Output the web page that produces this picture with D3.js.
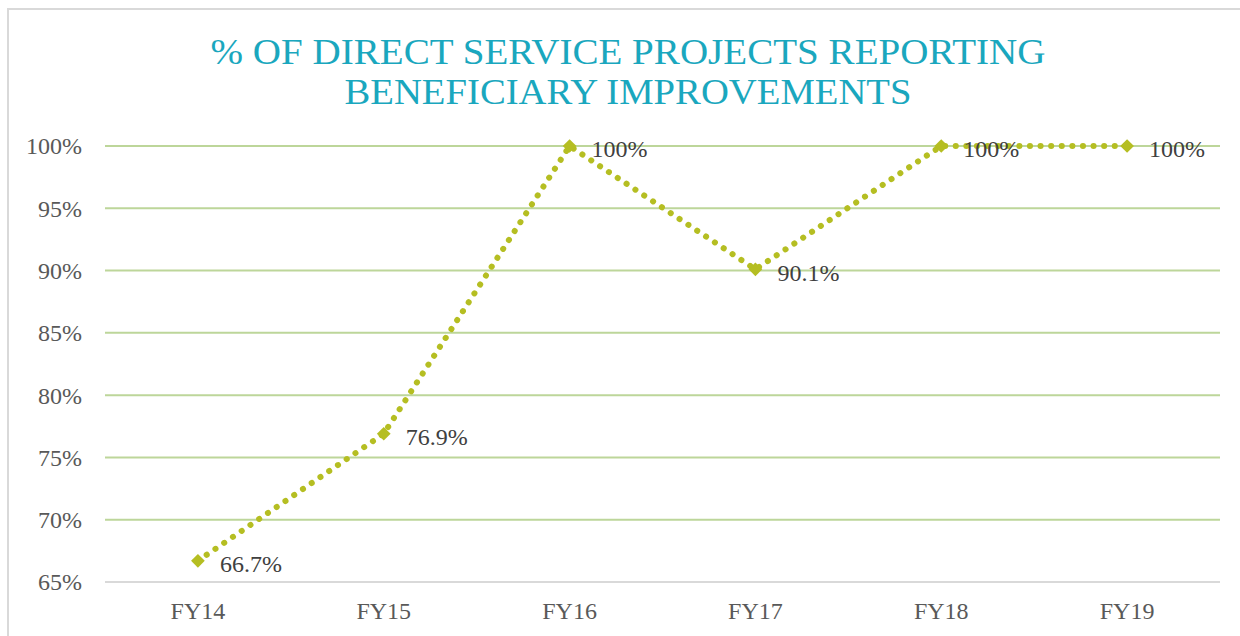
<!DOCTYPE html>
<html>
<head>
<meta charset="utf-8">
<script src="https://cdn.jsdelivr.net/npm/d3@7"></script>
<style>
  body { margin: 0; background: #fff; }
  svg { display: block; }
</style>
</head>
<body>
<svg id="chart" width="1240" height="636"></svg>
<script>
// data
var years = ["FY14", "FY15", "FY16", "FY17", "FY18", "FY19"];
var pct = [66.7, 76.9, 100, 90.1, 100, 100];
var pctLabels = ["66.7%", "76.9%", "100%", "90.1%", "100%", "100%"];
var yTicks = [65, 70, 75, 80, 85, 90, 95, 100];
var titleLines = ["% OF DIRECT SERVICE PROJECTS REPORTING", "BENEFICIARY IMPROVEMENTS"];

var svg = d3.select("#chart");
var serif = "'Liberation Serif', 'Times New Roman', serif";
var lineColour = "#B5BE22";

// chart border (only top/left visible in the picture)
svg.append("path")
    .attr("d", "M8,640 L8,9 L1250,9")
    .attr("fill", "none")
    .attr("stroke", "#D9D9D9")
    .attr("stroke-width", 2);

// title
var titleWidths = [835, 567];
svg.selectAll(".title")
    .data(titleLines)
    .join("text")
    .attr("class", "title")
    .attr("x", 628)
    .attr("y", (d, i) => 64 + i * 40)
    .attr("text-anchor", "middle")
    .attr("textLength", (d, i) => titleWidths[i])
    .attr("lengthAdjust", "spacingAndGlyphs")
    .style("font-family", serif)
    .style("font-size", "36px")
    .style("fill", "#1AA7BE")
    .text(d => d);

var x = d3.scaleBand().domain(years).range([105, 1220]);
var y = d3.scaleLinear().domain([65, 100]).range([582, 146]);

// gridlines
svg.append("g").selectAll("line")
    .data(yTicks)
    .join("line")
    .attr("x1", 105)
    .attr("x2", 1220)
    .attr("y1", d => y(d))
    .attr("y2", d => y(d))
    .attr("stroke", d => d == 65 ? "#D9D9D9" : "#BDD69A")
    .attr("stroke-width", 2);

// y axis labels
svg.append("g").selectAll("text")
    .data(yTicks)
    .join("text")
    .attr("x", 82)
    .attr("y", d => y(d))
    .attr("dy", "0.35em")
    .attr("text-anchor", "end")
    .style("font-family", serif)
    .style("font-size", "24px")
    .style("fill", "#595959")
    .text(d => d + "%");

// x axis labels
svg.append("g").selectAll("text")
    .data(years)
    .join("text")
    .attr("x", d => x(d) + x.bandwidth() / 2)
    .attr("y", 619)
    .attr("text-anchor", "middle")
    .style("font-family", serif)
    .style("font-size", "24px")
    .style("fill", "#595959")
    .text(d => d);

var pts = years.map((d, i) => ({ year: d, v: pct[i], label: pctLabels[i] }));

// dotted line
var line = d3.line()
    .x(d => x(d.year) + x.bandwidth() / 2)
    .y(d => y(d.v));

svg.append("path")
    .datum(pts)
    .attr("d", line)
    .attr("fill", "none")
    .attr("stroke", lineColour)
    .attr("stroke-width", 6)
    .attr("stroke-linecap", "round")
    .attr("stroke-dasharray", "0.1 10.5");

// diamond markers
svg.append("g").selectAll("path")
    .data(pts)
    .join("path")
    .attr("d", d3.symbol().type(d3.symbolDiamond2).size(120))
    .attr("transform", d => "translate(" + (x(d.year) + x.bandwidth() / 2) + "," + y(d.v) + ")")
    .attr("fill", lineColour);

// data labels
svg.append("g").selectAll("text")
    .data(pts)
    .join("text")
    .attr("x", d => x(d.year) + x.bandwidth() / 2 + 22)
    .attr("y", d => y(d.v) + 3)
    .attr("dy", "0.35em")
    .style("font-family", serif)
    .style("font-size", "24px")
    .style("fill", "#404040")
    .text(d => d.label);
</script>
</body>
</html>
